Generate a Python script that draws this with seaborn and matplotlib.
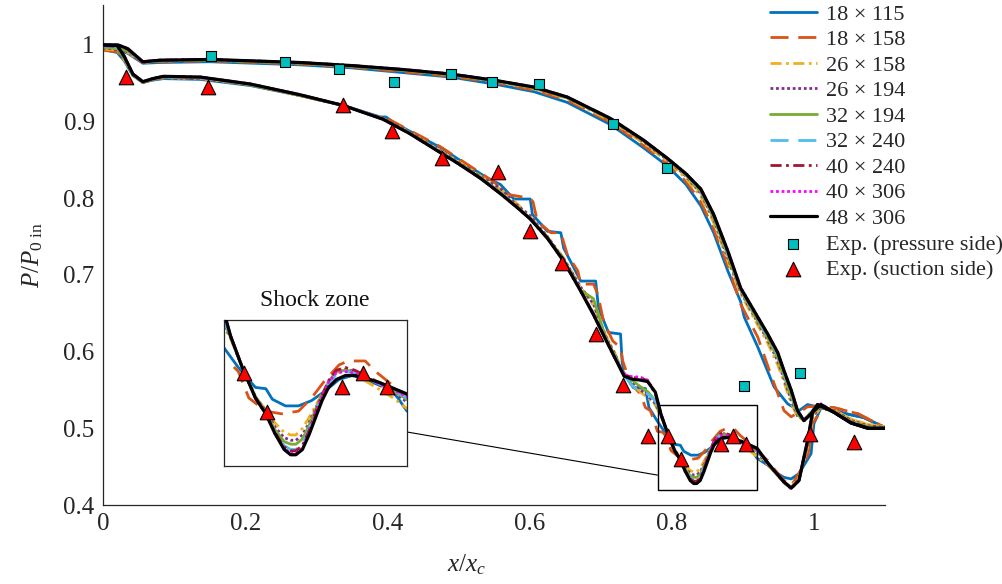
import matplotlib
matplotlib.use("Agg")
import matplotlib.pyplot as plt
import seaborn as sns
from matplotlib.patches import Rectangle, ConnectionPatch

# ---------------- data ----------------
grids = ["18 × 115", "18 × 158", "26 × 158", "26 × 194", "32 × 194",
         "32 × 240", "40 × 240", "40 × 306", "48 × 306"]

# shared x grids (used by the finer grids)
xp = [0, 0.021, 0.035, 0.056, 0.08, 0.15, 0.277, 0.35, 0.42, 0.489, 0.55, 0.606,
      0.653, 0.714, 0.76, 0.794, 0.82, 0.841, 0.859, 0.879, 0.897, 0.916, 0.935,
      0.949, 0.958, 0.968, 0.977, 0.986, 0.996, 1.005, 1.028, 1.052, 1.076, 1.1]
xs = [0, 0.02, 0.03, 0.042, 0.056, 0.07, 0.085, 0.137, 0.207, 0.277,
      0.338, 0.394, 0.432, 0.465, 0.5, 0.531, 0.559, 0.58, 0.601, 0.625,
      0.648, 0.672, 0.69, 0.707, 0.72, 0.733, 0.745, 0.755, 0.766, 0.777,
      0.785, 0.794, 0.804, 0.812, 0.819, 0.826, 0.831, 0.835, 0.840, 0.845,
      0.850, 0.855, 0.860, 0.866, 0.873, 0.880, 0.888, 0.898, 0.908, 0.92,
      0.935, 0.944, 0.958, 0.968, 0.979, 0.992, 0.998, 1.01, 1.028, 1.052, 1.076, 1.1]

# 18 x 115 (own x grids)
g18_115_px = [0, 0.021, 0.035, 0.056, 0.08, 0.15, 0.277, 0.35, 0.42, 0.489, 0.55, 0.606,
              0.653, 0.714, 0.76, 0.794, 0.82, 0.841, 0.859, 0.879, 0.897, 0.902, 0.921,
              0.944, 0.963, 0.979, 0.991, 1.005, 1.028, 1.05, 1.07, 1.1]
g18_115_py = [0.994, 0.993, 0.989, 0.976, 0.977, 0.978, 0.974, 0.970, 0.964, 0.958, 0.949,
              0.939, 0.925, 0.896, 0.866, 0.842, 0.818, 0.790, 0.755, 0.705, 0.665, 0.645,
              0.606, 0.554, 0.532, 0.523, 0.531, 0.528, 0.523, 0.518, 0.514, 0.501]
g18_115_sx = [0, 0.02, 0.03, 0.042, 0.056, 0.07, 0.085, 0.137, 0.207, 0.277, 0.338, 0.39,
              0.398, 0.41, 0.475, 0.541, 0.559, 0.578, 0.601, 0.604, 0.625, 0.644, 0.648,
              0.672, 0.693, 0.697, 0.711, 0.728, 0.731, 0.746, 0.763, 0.768,
              0.78, 0.791, 0.804, 0.812, 0.817, 0.827, 0.837, 0.847, 0.857, 0.868, 0.878,
              0.888, 0.898, 0.906, 0.913, 0.92,
              0.935, 0.944, 0.958, 0.968, 0.979, 0.996, 1.0, 1.01, 1.028, 1.05, 1.07, 1.1]
g18_115_sy = [0.994, 0.990, 0.979, 0.960, 0.951, 0.954, 0.956, 0.955, 0.947, 0.934, 0.921,
              0.906, 0.906, 0.898, 0.866, 0.826, 0.818, 0.799, 0.799, 0.779, 0.757, 0.755,
              0.735, 0.692, 0.692, 0.657, 0.625, 0.623, 0.575, 0.553, 0.552, 0.527,
              0.509, 0.494, 0.479, 0.478, 0.470, 0.465, 0.465, 0.469, 0.476, 0.485, 0.488,
              0.485, 0.481, 0.479, 0.471, 0.461,
              0.452, 0.444, 0.436, 0.434, 0.441, 0.467, 0.506, 0.527, 0.523, 0.518, 0.514, 0.501]

# 18 x 158 (own x grids)
g18_158_px = [0, 0.021, 0.035, 0.056, 0.08, 0.15, 0.277, 0.35, 0.42, 0.489, 0.55, 0.606,
              0.653, 0.714, 0.76, 0.794, 0.82, 0.841, 0.859, 0.879, 0.897, 0.921, 0.939,
              0.958, 0.968, 0.979, 0.991, 1.005, 1.028, 1.062, 1.1]
g18_158_py = [0.994, 0.993, 0.990, 0.977, 0.978, 0.979, 0.975, 0.971, 0.965, 0.959, 0.951,
              0.941, 0.928, 0.899, 0.869, 0.845, 0.822, 0.795, 0.760, 0.712, 0.662, 0.619,
              0.571, 0.523, 0.515, 0.521, 0.528, 0.529, 0.527, 0.519, 0.501]
g18_158_sx = [0, 0.02, 0.03, 0.042, 0.056, 0.07, 0.085, 0.137, 0.207, 0.277, 0.338, 0.39,
              0.398, 0.41, 0.475, 0.549, 0.569, 0.601, 0.605, 0.611, 0.63, 0.644, 0.653,
              0.668, 0.672, 0.69, 0.696, 0.704, 0.717, 0.728, 0.731, 0.742, 0.756, 0.763, 0.77,
              0.78, 0.787, 0.791, 0.799, 0.812, 0.824, 0.837, 0.847, 0.857, 0.868, 0.875,
              0.888, 0.896, 0.906, 0.92,
              0.935, 0.944, 0.958, 0.968, 0.984, 0.992, 0.998, 1.01, 1.028, 1.062, 1.1]
g18_158_sy = [0.993, 0.991, 0.981, 0.961, 0.951, 0.955, 0.957, 0.956, 0.948, 0.934, 0.921,
              0.905, 0.905, 0.899, 0.867, 0.822, 0.805, 0.800, 0.795, 0.770, 0.755, 0.755,
              0.727, 0.705, 0.688, 0.688, 0.675, 0.640, 0.614, 0.605, 0.588, 0.558, 0.545, 0.527, 0.523,
              0.496, 0.495, 0.491, 0.471, 0.461, 0.459, 0.461, 0.471, 0.484, 0.496, 0.499,
              0.499, 0.491, 0.483, 0.471,
              0.458, 0.447, 0.432, 0.425, 0.449, 0.467, 0.506, 0.523, 0.527, 0.519, 0.501]

# finer grids on the shared pressure-side x grid
g26_158_py = [0.995, 0.994, 0.990, 0.977, 0.979, 0.980, 0.976, 0.972, 0.967, 0.961, 0.953,
              0.943, 0.930, 0.901, 0.872, 0.848, 0.826, 0.802, 0.768, 0.718, 0.675, 0.643,
              0.611, 0.583, 0.560, 0.533, 0.515, 0.512, 0.520, 0.528, 0.524, 0.512, 0.505, 0.502]
g26_194_py = [0.996, 0.995, 0.991, 0.977, 0.979, 0.980, 0.976, 0.972, 0.967, 0.961, 0.953,
              0.944, 0.931, 0.903, 0.874, 0.850, 0.829, 0.806, 0.772, 0.722, 0.678, 0.646,
              0.615, 0.588, 0.564, 0.537, 0.516, 0.511, 0.521, 0.529, 0.523, 0.510, 0.503, 0.501]
g32_194_py = [0.997, 0.996, 0.992, 0.978, 0.979, 0.980, 0.976, 0.972, 0.967, 0.961, 0.953,
              0.944, 0.931, 0.903, 0.875, 0.851, 0.830, 0.808, 0.774, 0.725, 0.680, 0.648,
              0.618, 0.592, 0.568, 0.542, 0.518, 0.510, 0.521, 0.530, 0.522, 0.509, 0.502, 0.500]
g32_240_py = [0.998, 0.998, 0.993, 0.978, 0.980, 0.981, 0.977, 0.973, 0.968, 0.962, 0.954,
              0.945, 0.932, 0.904, 0.876, 0.852, 0.831, 0.810, 0.777, 0.728, 0.681, 0.651,
              0.620, 0.596, 0.572, 0.547, 0.521, 0.510, 0.520, 0.531, 0.521, 0.508, 0.501, 0.500]
g40_240_py = [0.999, 0.999, 0.994, 0.978, 0.980, 0.981, 0.977, 0.973, 0.968, 0.962, 0.954,
              0.945, 0.932, 0.904, 0.876, 0.852, 0.832, 0.811, 0.778, 0.730, 0.682, 0.652,
              0.622, 0.598, 0.574, 0.549, 0.522, 0.510, 0.519, 0.531, 0.521, 0.508, 0.501, 0.500]
g40_306_py = [1.000, 1.000, 0.995, 0.978, 0.980, 0.981, 0.977, 0.973, 0.968, 0.962, 0.954,
              0.945, 0.932, 0.904, 0.876, 0.852, 0.832, 0.812, 0.779, 0.731, 0.683, 0.653,
              0.623, 0.599, 0.575, 0.550, 0.523, 0.510, 0.519, 0.531, 0.521, 0.507, 0.500, 0.500]
g48_306_py = [1.000, 1.000, 0.995, 0.978, 0.980, 0.981, 0.977, 0.973, 0.968, 0.962, 0.954,
              0.945, 0.932, 0.904, 0.876, 0.852, 0.832, 0.812, 0.779, 0.731, 0.683, 0.653,
              0.623, 0.599, 0.575, 0.550, 0.523, 0.510, 0.519, 0.531, 0.521, 0.507, 0.500, 0.500]

# finer grids on the shared suction-side x grid
g26_158_sy = [0.995, 0.993, 0.980, 0.961, 0.951, 0.955, 0.957, 0.956, 0.948, 0.934,
              0.921, 0.904, 0.886, 0.867, 0.848, 0.829, 0.812, 0.795, 0.776, 0.750,
              0.722, 0.684, 0.660, 0.622, 0.598, 0.570, 0.556, 0.548, 0.540, 0.530,
              0.516, 0.494, 0.472, 0.462, 0.452, 0.445, 0.443, 0.443, 0.448, 0.456,
              0.465, 0.474, 0.483, 0.490, 0.492, 0.490, 0.484, 0.478, 0.472, 0.463,
              0.453, 0.443, 0.430, 0.424, 0.436, 0.478, 0.512, 0.528, 0.524, 0.512, 0.505, 0.502]
g26_194_sy = [0.996, 0.994, 0.981, 0.961, 0.951, 0.955, 0.957, 0.956, 0.948, 0.934,
              0.921, 0.904, 0.886, 0.867, 0.847, 0.828, 0.813, 0.793, 0.777, 0.750,
              0.721, 0.684, 0.662, 0.620, 0.597, 0.568, 0.560, 0.551, 0.543, 0.532,
              0.517, 0.494, 0.472, 0.461, 0.449, 0.441, 0.439, 0.439, 0.443, 0.452,
              0.463, 0.473, 0.483, 0.491, 0.493, 0.491, 0.487, 0.481, 0.476, 0.468,
              0.454, 0.444, 0.429, 0.423, 0.434, 0.482, 0.515, 0.529, 0.523, 0.510, 0.503, 0.501]
g32_194_sy = [0.997, 0.995, 0.982, 0.961, 0.951, 0.955, 0.958, 0.957, 0.948, 0.934,
              0.921, 0.903, 0.885, 0.866, 0.846, 0.827, 0.808, 0.791, 0.774, 0.749,
              0.720, 0.680, 0.669, 0.618, 0.595, 0.568, 0.562, 0.555, 0.548, 0.536,
              0.517, 0.494, 0.472, 0.460, 0.447, 0.438, 0.436, 0.436, 0.440, 0.450,
              0.462, 0.473, 0.483, 0.491, 0.492, 0.491, 0.487, 0.482, 0.477, 0.470,
              0.455, 0.444, 0.429, 0.422, 0.433, 0.485, 0.518, 0.530, 0.522, 0.509, 0.502, 0.500]
g32_240_sy = [0.998, 0.997, 0.983, 0.962, 0.952, 0.956, 0.958, 0.957, 0.949, 0.935,
              0.921, 0.903, 0.884, 0.865, 0.845, 0.826, 0.807, 0.790, 0.773, 0.748,
              0.718, 0.679, 0.650, 0.617, 0.594, 0.569, 0.555, 0.548, 0.545, 0.536,
              0.518, 0.494, 0.471, 0.459, 0.445, 0.435, 0.432, 0.432, 0.436, 0.447,
              0.460, 0.472, 0.482, 0.489, 0.491, 0.490, 0.487, 0.482, 0.478, 0.471,
              0.455, 0.445, 0.430, 0.422, 0.432, 0.487, 0.520, 0.531, 0.521, 0.508, 0.501, 0.500]
g40_240_sy = [0.999, 0.998, 0.984, 0.962, 0.952, 0.956, 0.959, 0.958, 0.949, 0.935,
              0.921, 0.903, 0.884, 0.865, 0.845, 0.826, 0.806, 0.790, 0.773, 0.748,
              0.718, 0.679, 0.649, 0.616, 0.592, 0.570, 0.566, 0.566, 0.562, 0.545,
              0.518, 0.494, 0.471, 0.459, 0.445, 0.434, 0.431, 0.431, 0.435, 0.446,
              0.460, 0.473, 0.484, 0.492, 0.494, 0.492, 0.488, 0.483, 0.479, 0.473,
              0.455, 0.445, 0.430, 0.422, 0.432, 0.488, 0.521, 0.531, 0.521, 0.508, 0.500, 0.500]
g40_306_sy = [1.000, 0.999, 0.985, 0.962, 0.952, 0.956, 0.959, 0.958, 0.949, 0.935,
              0.921, 0.903, 0.884, 0.865, 0.845, 0.826, 0.806, 0.790, 0.773, 0.748,
              0.718, 0.679, 0.648, 0.616, 0.592, 0.570, 0.567, 0.567, 0.563, 0.546,
              0.518, 0.494, 0.471, 0.459, 0.444, 0.433, 0.429, 0.429, 0.433, 0.445,
              0.459, 0.472, 0.483, 0.490, 0.491, 0.490, 0.487, 0.482, 0.478, 0.472,
              0.455, 0.445, 0.430, 0.421, 0.432, 0.489, 0.522, 0.532, 0.521, 0.507, 0.500, 0.500]
g48_306_sy = [1.000, 0.999, 0.985, 0.962, 0.952, 0.956, 0.959, 0.958, 0.949, 0.935,
              0.921, 0.903, 0.884, 0.865, 0.845, 0.826, 0.806, 0.790, 0.773, 0.748,
              0.718, 0.679, 0.648, 0.616, 0.592, 0.568, 0.564, 0.563, 0.561, 0.547,
              0.518, 0.494, 0.471, 0.459, 0.444, 0.432, 0.428, 0.428, 0.432, 0.443,
              0.456, 0.469, 0.479, 0.485, 0.488, 0.488, 0.486, 0.483, 0.479, 0.474,
              0.455, 0.445, 0.430, 0.422, 0.432, 0.488, 0.521, 0.531, 0.521, 0.507, 0.500, 0.500]

# experiments
exp_ps_x = [0.152, 0.256, 0.332, 0.41, 0.489, 0.547, 0.613, 0.718, 0.794, 0.902, 0.980]
exp_ps_y = [0.986, 0.978, 0.969, 0.952, 0.962, 0.952, 0.949, 0.897, 0.839, 0.555, 0.572]
exp_ss_x = [0.032, 0.148, 0.338, 0.407, 0.477, 0.555, 0.600, 0.646, 0.693, 0.731,
            0.766, 0.795, 0.813, 0.870, 0.886, 0.905, 0.994, 1.056]
exp_ss_y = [0.958, 0.945, 0.922, 0.888, 0.853, 0.834, 0.757, 0.716, 0.623, 0.557,
            0.490, 0.490, 0.460, 0.479, 0.490, 0.479, 0.492, 0.482]

xticks = [0, 0.2, 0.4, 0.6, 0.8, 1.0]
xticklabels = ["0", "0.2", "0.4", "0.6", "0.8", "1"]
yticks = [0.4, 0.5, 0.6, 0.7, 0.8, 0.9, 1.0]
yticklabels = ["0.4", "0.5", "0.6", "0.7", "0.8", "0.9", "1"]

series = [
    (g18_115_px, g18_115_py, g18_115_sx, g18_115_sy),
    (g18_158_px, g18_158_py, g18_158_sx, g18_158_sy),
    (xp, g26_158_py, xs, g26_158_sy),
    (xp, g26_194_py, xs, g26_194_sy),
    (xp, g32_194_py, xs, g32_194_sy),
    (xp, g32_240_py, xs, g32_240_sy),
    (xp, g40_240_py, xs, g40_240_sy),
    (xp, g40_306_py, xs, g40_306_sy),
    (xp, g48_306_py, xs, g48_306_sy),
]

# ---------------- styles ----------------
colors = ["#0072BD", "#D95319", "#EDB120", "#7E2F8E", "#77AC30",
          "#4DBEEE", "#A2142F", "#FF00FF", "#000000"]
dash = (0, (6.5, 3.5))
dashdot = (0, (4, 1.6, 1, 1.6))
dot = (0, (1, 1))
styles = ["-", dash, dashdot, dot, "-", dash, dashdot, dot, "-"]
lws = [2.0] * 8 + [2.3]

sns.set_style("white")
plt.rcParams["font.family"] = ["Liberation Serif", "DejaVu Serif"]
plt.rcParams["mathtext.fontset"] = "custom"
plt.rcParams["mathtext.rm"] = "Liberation Serif"
plt.rcParams["mathtext.it"] = "Liberation Serif:italic"

axcol = "#262626"
fig = plt.figure(figsize=(10.03, 5.84), dpi=100)
ax = fig.add_axes([103 / 1003, 1 - 505 / 584, 782 / 1003, 500 / 584])
axin = fig.add_axes([224 / 1003, 1 - 466 / 584, 183 / 1003, 146 / 584])


def draw(a, with_labels):
    for i, (pxx, pyy, sxx, syy) in enumerate(series):
        kw = dict(color=colors[i], linewidth=lws[i], linestyle=styles[i],
                  sort=False, estimator=None, ax=a, legend=False, zorder=2 + i * 0.1)
        sns.lineplot(x=pxx, y=pyy, label=grids[i] if with_labels else None, **kw)
        sns.lineplot(x=sxx, y=syy, **kw)
    sns.scatterplot(x=exp_ps_x, y=exp_ps_y, marker="s", s=55, color="#00BFBF",
                    edgecolor="black", linewidth=0.8, ax=a, zorder=5, legend=False,
                    label="Exp. (pressure side)" if with_labels else None)
    sns.scatterplot(x=exp_ss_x, y=exp_ss_y, marker="^", s=110, color="#FF0000",
                    edgecolor="black", linewidth=0.8, ax=a, zorder=5, legend=False,
                    label="Exp. (suction side)" if with_labels else None)


draw(ax, True)
draw(axin, False)

ax.set_xlim(0, 1.1)
ax.set_ylim(0.4, 1.052)
ax.set_xticks(xticks)
ax.set_xticklabels(xticklabels)
ax.set_yticks(yticks)
ax.set_yticklabels(yticklabels)
ax.tick_params(direction="in", length=5, width=0.8, labelsize=18, pad=6,
               color=axcol, labelcolor=axcol)
for s in ["top", "right"]:
    ax.spines[s].set_visible(False)
for s in ["left", "bottom"]:
    ax.spines[s].set_color(axcol)
    ax.spines[s].set_linewidth(0.9)
ax.set_xlabel(r"$x/x_c$", fontsize=18, color=axcol)
ax.xaxis.set_label_coords(0.465, -0.095)
ax.set_ylabel(r"$P/P_{0\ \mathrm{in}}$", fontsize=18, color=axcol)
ax.yaxis.set_label_coords(-0.074, 0.5)

# inset
axin.set_xlim(0.78, 0.92)
axin.set_ylim(0.4195, 0.53)
axin.set_xticks([])
axin.set_yticks([])
axin.set_xlabel("")
axin.set_ylabel("")
for s in axin.spines.values():
    s.set_visible(True)
    s.set_color(axcol)
    s.set_linewidth(0.9)
axin.set_zorder(6)

ax.add_patch(Rectangle((0.78, 0.4195), 0.14, 0.1105, fill=False,
                       edgecolor="black", linewidth=1.0, zorder=6))
con = ConnectionPatch(xyA=(1.0, 0.233), coordsA=axin.transAxes,
                      xyB=(0.78, 0.439), coordsB=ax.transData,
                      color="black", linewidth=0.8)
fig.add_artist(con)
fig.text(315 / 1003, 1 - 300 / 584, "Shock zone", ha="center", va="center",
         fontsize=17, color="#111111")

handles, labels = ax.get_legend_handles_labels()
leg = ax.legend(handles, labels, loc="upper left",
                bbox_to_anchor=(770 / 1003, 1 - 4 / 584), bbox_transform=fig.transFigure,
                frameon=False, fontsize=16, handlelength=2.1, handletextpad=0.4,
                labelspacing=0.225, borderpad=0, borderaxespad=0, scatterpoints=1)
leg.set_zorder(10)

fig.savefig("out.png", dpi=100)
